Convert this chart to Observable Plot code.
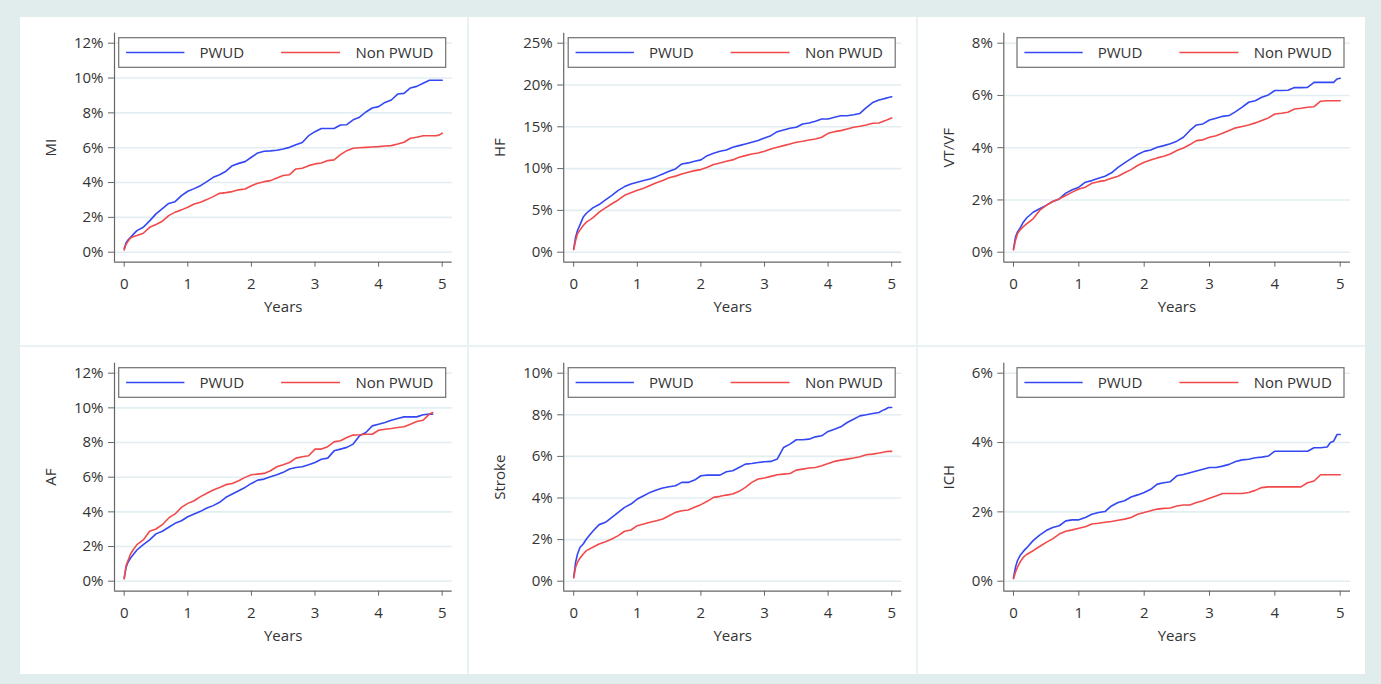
<!DOCTYPE html>
<html><head><meta charset="utf-8">
<script src="https://cdn.jsdelivr.net/npm/d3@7"></script>
<script src="https://cdn.jsdelivr.net/npm/@observablehq/plot@0.6"></script>
<style>
html,body{margin:0;padding:0;}
body{width:1381px;height:684px;background:#e1eded;position:relative;overflow:hidden;font-family:"Open Sans",sans-serif;}
#frame{position:absolute;left:20px;top:17px;width:1345px;height:657px;background:#eaf3f3;}
.cell{position:absolute;background:#fff;overflow:hidden;}
.cell svg{display:block;}
</style></head><body><div id="frame"></div><script>
// ---------------- data ----------------
const times = [0,0.03,0.06,0.1,0.15,0.2,0.3,0.4,0.5,0.6,0.7,0.8,0.9,1.0,1.1,1.2,1.3,1.4,1.5,1.6,1.7,1.8,1.9,2.0,2.1,2.2,2.3,2.4,2.5,2.6,2.7,2.8,2.9,3.0,3.1,3.2,3.3,3.4,3.5,3.6,3.7,3.8,3.9,4.0,4.1,4.2,4.3,4.4,4.5,4.6,4.7,4.8,4.85,4.9,4.95,5.0];
const outcomes = ["MI","HF","VT/VF","AF","Stroke","ICH"];
const groups = ["PWUD","Non PWUD"];
const groupColors = ["#3347f2","#f24a4a"];
const yTickMax = [12,25,8,12,10,6];
const yTickStep = [2,5,2,2,2,2];
const xTicks = [0,1,2,3,4,5];
const xTitle = "Years";

const miPWUD = [0.2,0.55,0.7,0.86,1.05,1.24, 1.43,1.8,2.2,2.5,2.8,2.9,3.25,3.5, 3.65,3.82,4.05,4.3,4.45,4.65,4.97,5.1,5.2,5.45, 5.7,5.8,5.82,5.85,5.93,6.02,6.17,6.3,6.69,6.92, 7.1,7.1,7.1,7.3,7.32,7.6,7.75,8.05,8.28,8.36, 8.6,8.74,9.08,9.12,9.43,9.52,9.7,9.87, 9.87,9.87,9.87,9.87];
const miNon = [0.13,0.45,0.62,0.82,0.9,0.96, 1.09,1.43,1.59,1.78,2.1,2.3,2.43,2.58, 2.77,2.87,3.02,3.19,3.38,3.42,3.48,3.58,3.63,3.82, 3.96,4.05,4.11,4.26,4.4,4.45,4.78,4.82,4.97,5.07, 5.12,5.26,5.3,5.6,5.83,5.97,6.0,6.02,6.04,6.06, 6.1,6.12,6.21,6.31,6.54,6.6,6.69,6.69, 6.69,6.69,6.72,6.83];
const hfPWUD = [0.4,1.8,2.6,3.3,4.2,4.66, 5.3,5.7,6.25,6.8,7.4,7.85,8.17,8.37, 8.57,8.76,9.04,9.36,9.68,9.96,10.56,10.68,10.88,11.04, 11.55,11.83,12.07,12.23,12.55,12.75,12.95,13.15,13.35,13.67, 13.94,14.42,14.62,14.82,14.94,15.34,15.46,15.66,15.94,15.94, 16.14,16.33,16.33,16.45,16.6,17.3,17.9,18.2, 18.3,18.4,18.5,18.6];
const hfNon = [0.3,1.4,2.2,2.67,3.2,3.6, 4.1,4.8,5.3,5.8,6.25,6.8,7.1,7.4, 7.65,7.97,8.3,8.57,8.9,9.1,9.36,9.56,9.76,9.88, 10.16,10.5,10.68,10.88,11.04,11.35,11.55,11.75,11.87,12.07, 12.35,12.55,12.75,12.95,13.15,13.27,13.43,13.55,13.75,14.22, 14.42,14.54,14.74,14.94,15.06,15.22,15.42,15.46, 15.6,15.74,15.9,16.06];
const vtPWUD = [0.13,0.57,0.77,0.92,1.15,1.31, 1.53,1.66,1.79,1.94,2.04,2.26,2.39,2.49, 2.68,2.74,2.83,2.91,3.04,3.25,3.42,3.58,3.74,3.86, 3.91,4.02,4.08,4.15,4.25,4.4,4.66,4.87,4.91,5.06, 5.13,5.2,5.23,5.38,5.55,5.74,5.8,5.93,6.02,6.19, 6.19,6.2,6.3,6.3,6.31,6.5,6.5,6.5, 6.5,6.5,6.63,6.66];
const vtNon = [0.09,0.45,0.7,0.85,0.98,1.08, 1.28,1.6,1.79,1.94,2.04,2.17,2.3,2.42, 2.49,2.64,2.7,2.74,2.83,2.91,3.04,3.16,3.32,3.44, 3.53,3.61,3.67,3.76,3.89,3.99,4.12,4.27,4.3,4.4, 4.46,4.55,4.66,4.76,4.81,4.87,4.95,5.04,5.14,5.29, 5.32,5.36,5.48,5.51,5.55,5.57,5.78,5.8, 5.8,5.8,5.8,5.8];
const afPWUD = [0.19,0.8,1.09,1.34,1.57,1.8, 2.11,2.38,2.73,2.88,3.11,3.34,3.49,3.72, 3.88,4.03,4.22,4.36,4.55,4.84,5.03,5.22,5.41,5.64, 5.83,5.89,6.03,6.14,6.28,6.47,6.56,6.6,6.72,6.85, 7.04,7.1,7.52,7.62,7.72,7.91,8.39,8.58,8.96,9.06, 9.16,9.29,9.39,9.48,9.48,9.48,9.6,9.64, 9.64,null,null,null];
const afNon = [0.13,0.9,1.19,1.57,1.86,2.11, 2.38,2.88,3.01,3.26,3.65,3.88,4.26,4.49, 4.64,4.88,5.07,5.26,5.41,5.57,5.64,5.8,5.99,6.14, 6.18,6.22,6.37,6.6,6.72,6.85,7.1,7.18,7.24,7.62, 7.62,7.76,8.04,8.1,8.29,8.43,8.45,8.48,8.48,8.71, 8.77,8.81,8.87,8.91,9.06,9.21,9.29,9.64, 9.73,null,null,null];
const strokePWUD = [0.19,0.91,1.31,1.63,1.79,2.03, 2.4,2.72,2.83,3.07,3.31,3.55,3.71,3.95, 4.11,4.27,4.38,4.48,4.54,4.59,4.75,4.75,4.86,5.07, 5.1,5.1,5.1,5.26,5.31,5.47,5.63,5.66,5.71,5.74, 5.76,5.87,6.43,6.59,6.8,6.8,6.83,6.94,6.99,7.2, 7.31,7.42,7.63,7.79,7.95,8.0,8.06,8.11, 8.2,8.27,8.35,8.35];
const strokeNon = [0.16,0.67,0.91,1.12,1.31,1.47, 1.63,1.79,1.9,2.03,2.19,2.4,2.46,2.67, 2.75,2.83,2.91,2.99,3.15,3.31,3.39,3.42,3.55,3.68, 3.84,4.03,4.08,4.14,4.19,4.32,4.51,4.75,4.91,4.96, 5.04,5.12,5.15,5.18,5.34,5.39,5.44,5.47,5.55,5.66, 5.76,5.82,5.87,5.92,5.98,6.08,6.11,6.16, 6.19,6.22,6.24,6.24];
const ichPWUD = [0.1,0.4,0.59,0.74,0.86,0.96, 1.17,1.33,1.46,1.55,1.6,1.74,1.77,1.77, 1.84,1.93,1.98,2.01,2.17,2.27,2.32,2.43,2.49,2.56, 2.65,2.8,2.84,2.87,3.04,3.08,3.13,3.18,3.23,3.28, 3.28,3.32,3.37,3.45,3.5,3.52,3.56,3.58,3.61,3.75, 3.75,3.75,3.75,3.75,3.75,3.85,3.85,3.87, 4.0,4.04,4.23,4.23];
const ichNon = [0.07,0.26,0.4,0.55,0.69,0.77, 0.88,1.0,1.12,1.22,1.36,1.44,1.48,1.53, 1.57,1.65,1.67,1.7,1.72,1.76,1.79,1.84,1.93,1.98, 2.03,2.08,2.1,2.11,2.17,2.2,2.2,2.27,2.32,2.39, 2.46,2.53,2.53,2.53,2.53,2.56,2.62,2.7,2.72,2.72, 2.72,2.72,2.72,2.72,2.84,2.89,3.07,3.07, 3.07,3.07,3.07,3.07];

const series = [[miPWUD,miNon],[hfPWUD,hfNon],[vtPWUD,vtNon],[afPWUD,afNon],[strokePWUD,strokeNon],[ichPWUD,ichNon]];

// ---------------- layout (page pixels) ----------------
const cols = [
  {left:20,  width:446.5, axisX:114,   x0:123.7, x5:441.7,  right:451.7},
  {left:468.5, width:447.5, axisX:562.7, x0:572.7, x5:890.7,  right:900.7},
  {left:918, width:447, axisX:1003.3, x0:1013,  x5:1339.7, right:1350}
];
const rows = [
  {top:17,  height:328, axisTop:32.7,  topTick:42.7,  zero:251.7, axisBottom:261.7},
  {top:347, height:327, axisTop:362.7, topTick:372.7, zero:580.7, axisBottom:590.7}
];
const textColor = "#333";
const axisColor = "#666";
const gridColor = "#e2eef2";
const font = "'Open Sans', sans-serif";

outcomes.forEach((name, i) => {
  const col = cols[i % 3], row = rows[Math.floor(i / 3)];
  const pxX = (col.x5 - col.x0) / (xTicks[xTicks.length-1] - xTicks[0]);
  const ymax = yTickMax[i];
  const pxY = (row.zero - row.topTick) / ymax;
  const xDomain = [(col.axisX - col.x0) / pxX, (col.right - col.x0) / pxX];
  const yDomain = [-(row.axisBottom - row.zero) / pxY, ymax + (row.topTick - row.axisTop) / pxY];
  const W = col.width, H = row.height;
  const yTicks = d3.range(0, ymax + 1e-9, yTickStep[i]);
  const data = [];
  groups.forEach((g, gi) => series[i][gi].forEach((v, k) => { if (v != null) data.push({t: times[k], v, g}); }));

  const plot = Plot.plot({
    width: W, height: H,
    marginLeft: col.axisX - col.left,
    marginRight: col.left + W - col.right,
    marginTop: row.axisTop - row.top,
    marginBottom: row.top + H - row.axisBottom,
    style: {fontFamily: font, fontSize: "15px", color: textColor, background: "transparent", overflow: "visible"},
    x: {domain: xDomain},
    y: {domain: yDomain},
    color: {domain: groups, range: groupColors},
    marks: [
      Plot.gridY(yTicks, {stroke: gridColor, strokeOpacity: 1, strokeWidth: 1.6}),
      Plot.ruleX([xDomain[0]], {stroke: axisColor, strokeWidth: 1.2}),
      Plot.ruleY([yDomain[0]], {stroke: axisColor, strokeWidth: 1.2}),
      Plot.axisX(xTicks, {tickSize: 5, tickPadding: 11, stroke: axisColor, fill: textColor, fontSize: 15, label: null, tickFormat: d => String(d)}),
      Plot.axisY(yTicks, {tickSize: 6, tickPadding: 5, stroke: axisColor, fill: textColor, fontSize: 15, label: null, tickFormat: d => d + "%"}),
      Plot.line(data, {x: "t", y: "v", z: "g", stroke: "g", strokeWidth: 1.6, strokeLinejoin: "round"}),
      Plot.text([xTitle], {x: [d3.mean([xTicks[0], xTicks[xTicks.length-1]])], text: d => d, frameAnchor: "bottom", lineAnchor: "top", dy: 39, fontSize: 15, fill: textColor}),
      Plot.text([name], {text: d => d, frameAnchor: "left", rotate: -90, dx: (col.left + 31) - col.axisX, textAnchor: "middle", lineAnchor: "middle", fontSize: 15, fill: textColor})
    ]
  });

  // legend (inside plot area, top right)
  const svg = d3.select(plot);
  const lw = 327, lh = 29.6;
  const lx = col.right - 6 - lw - col.left;
  const ly = row.axisTop + 5 - row.top;
  const lg = svg.append("g").attr("font-family", font).attr("font-size", 15).attr("text-anchor", "start");
  lg.append("rect").attr("x", lx).attr("y", ly).attr("width", lw).attr("height", lh)
    .attr("fill", "#fff").attr("stroke", "#707070").attr("stroke-width", 1.2);
  const entries = [{x1: 7.4, x2: 65.7, tx: 80.7}, {x1: 162.4, x2: 221.4, tx: 236.7}];
  groups.forEach((g, gi) => {
    const e = entries[gi];
    lg.append("line").attr("x1", lx + e.x1).attr("x2", lx + e.x2)
      .attr("y1", ly + lh / 2).attr("y2", ly + lh / 2)
      .attr("stroke", groupColors[gi]).attr("stroke-width", 1.6);
    lg.append("text").attr("x", lx + e.tx).attr("y", ly + lh / 2).attr("dy", "0.35em")
      .attr("text-anchor", "start").attr("fill", textColor).text(g);
  });

  const cell = document.createElement("div");
  cell.className = "cell";
  cell.style.left = col.left + "px";
  cell.style.top = row.top + "px";
  cell.style.width = W + "px";
  cell.style.height = H + "px";
  cell.appendChild(plot);
  document.body.appendChild(cell);
});
</script></body></html>
